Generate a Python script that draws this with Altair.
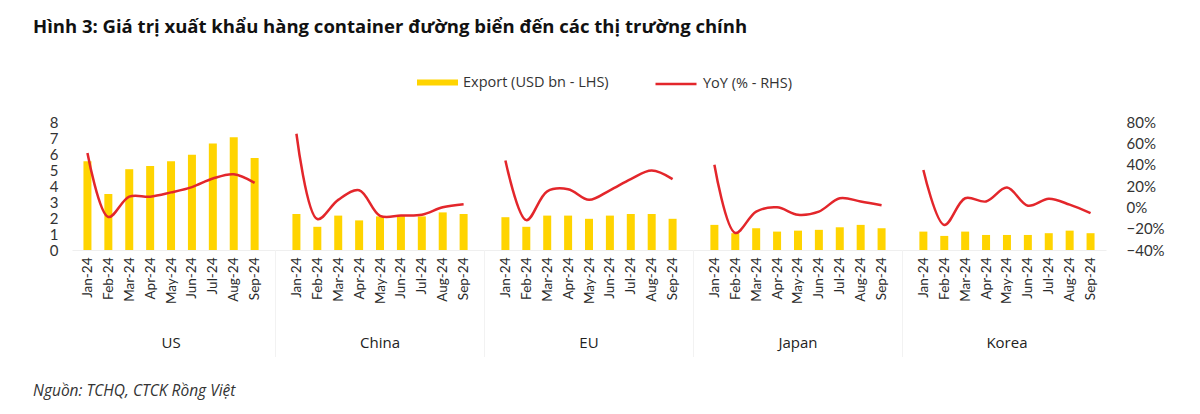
import altair as alt
import pandas as pd

markets = ["US", "China", "EU", "Japan", "Korea"]
months = ["Jan-24", "Feb-24", "Mar-24", "Apr-24", "May-24", "Jun-24", "Jul-24", "Aug-24", "Sep-24"]

export_us = [5.55, 3.5, 5.05, 5.25, 5.55, 5.95, 6.65, 7.05, 5.75]
export_china = [2.25, 1.45, 2.15, 1.85, 2.1, 2.15, 2.1, 2.35, 2.25]
export_eu = [2.05, 1.45, 2.15, 2.15, 1.95, 2.15, 2.25, 2.25, 1.95]
export_japan = [1.57, 1.05, 1.36, 1.15, 1.21, 1.26, 1.42, 1.57, 1.36]
export_korea = [1.15, 0.88, 1.15, 0.94, 0.94, 0.94, 1.05, 1.21, 1.05]

yoy_us = [0.51, -0.09, 0.10, 0.10, 0.14, 0.19, 0.27, 0.31, 0.23]
yoy_china = [0.69, -0.11, 0.07, 0.16, -0.08, -0.077, -0.07, 0.0, 0.03]
yoy_eu = [0.44, -0.12, 0.15, 0.17, 0.07, 0.16, 0.265, 0.345, 0.265]
yoy_japan = [0.40, -0.24, -0.04, 0.0, -0.07, -0.04, 0.085, 0.055, 0.02]
yoy_korea = [0.35, -0.165, 0.085, 0.055, 0.185, 0.015, 0.08, 0.025, -0.055]

exports = [export_us, export_china, export_eu, export_japan, export_korea]
yoys = [yoy_us, yoy_china, yoy_eu, yoy_japan, yoy_korea]

SLOTS_PER_GROUP = 10  # 9 months + 1 blank slot between markets

rows = []
for gi, m in enumerate(markets):
    for mi, mo in enumerate(months):
        rows.append({
            "market": m,
            "month": mo,
            "slot": gi * SLOTS_PER_GROUP + mi,
            "export": exports[gi][mi],
            "yoy": yoys[gi][mi],
            "s1": "Export (USD bn - LHS)",
            "s2": "YoY (% - RHS)",
        })
df = pd.DataFrame(rows)

groups = pd.DataFrame({
    "market": markets,
    "center": [gi * SLOTS_PER_GROUP + 4 for gi in range(len(markets))],
})
seps = pd.DataFrame({"sep": [gi * SLOTS_PER_GROUP - 1 for gi in range(1, len(markets))]})

FONT = "Lato"
FONT2 = "Open Sans"
W, H = 1034, 128
n_slots = len(markets) * SLOTS_PER_GROUP - 1

xscale = alt.Scale(domain=[-0.5, n_slots - 0.5], nice=False, zero=False)
month_arr = "[" + ",".join("'" + m + "'" for m in months) + "]"

x_axis = alt.Axis(
    values=df["slot"].tolist(),
    labelExpr=month_arr + "[datum.value % 10]",
    labelAngle=270,
    labelOverlap=False,
    labelFontSize=13.5,
    labelColor="#2a2a2a",
    labelFont=FONT,
    labelPadding=7,
    ticks=False,
    grid=False,
    domainColor="#efefef",
    title=None,
)

X = alt.X("slot:Q", scale=xscale, axis=x_axis)

bars = alt.Chart(df).mark_bar(size=8).encode(
    x=X,
    y=alt.Y("export:Q", scale=alt.Scale(domain=[0, 8], nice=False),
            axis=alt.Axis(values=list(range(0, 9)), format="d", title=None, grid=False,
                          ticks=False, domain=False, labelFontSize=15, labelColor="#333333",
                          labelFont=FONT, labelPadding=14)),
    fill=alt.Fill("s1:N", scale=alt.Scale(range=["#FFD400"]),
                  legend=alt.Legend(title=None, orient="none", legendX=345, legendY=-60,
                                    symbolType="M-1,-0.15L1,-0.15L1,0.15L-1,0.15Z", symbolSize=1681,
                                    symbolStrokeWidth=0, labelFontSize=14.5, labelFont=FONT2,
                                    labelColor="#333333", labelOffset=5)),
)

line = alt.Chart(df).mark_line(interpolate="catmull-rom", strokeWidth=2.5).encode(
    x=X,
    y=alt.Y("yoy:Q", scale=alt.Scale(domain=[-0.4, 0.8], nice=False),
            axis=alt.Axis(orient="right", values=[-0.4, -0.2, 0, 0.2, 0.4, 0.6, 0.8], format=".0%",
                          title=None, grid=False, ticks=False, domain=False, labelFontSize=15,
                          labelColor="#333333", labelFont=FONT, labelPadding=20)),
    detail="market:N",
    stroke=alt.Stroke("s2:N", scale=alt.Scale(range=["#E3262B"]),
                      legend=alt.Legend(title=None, orient="none", legendX=582, legendY=-60,
                                        symbolType="stroke", symbolSize=1681, symbolStrokeWidth=2.5,
                                        labelFontSize=14.5, labelFont=FONT2, labelColor="#333333",
                                        labelOffset=5)),
)

sep_rules = alt.Chart(seps).mark_rule(color="#f2f2f2", strokeWidth=1).encode(
    x=alt.X("sep:Q", scale=xscale, axis=x_axis),
    y=alt.value(H),
    y2=alt.value(H + 107),
)

group_text = alt.Chart(groups).mark_text(fontSize=15, font=FONT2, color="#222222", baseline="middle").encode(
    x=alt.X("center:Q", scale=xscale, axis=x_axis),
    y=alt.value(H + 93),
    text="market:N",
)

source = alt.Chart(pd.DataFrame({"t": ["Nguồn: TCHQ, CTCK Rồng Việt"]})).mark_text(
    fontSize=15.5, font=FONT2, fontStyle="italic", color="#333333", align="left", baseline="middle"
).encode(
    x=alt.value(-39),
    y=alt.value(H + 141),
    text="t:N",
)

chart = alt.layer(sep_rules, bars, line, group_text, source).resolve_scale(
    y="independent", fill="independent", stroke="independent"
).properties(
    width=W,
    height=H,
    autosize=alt.AutoSizeParams(type="none"),
    padding={"left": 64, "top": 114, "right": 86, "bottom": 156},
    title=alt.TitleParams(
        "Hình 3: Giá trị xuất khẩu hàng container đường biển đến các thị trường chính",
        anchor="start", frame="group", dx=-39, dy=-22, fontSize=18.5, font=FONT2,
        fontWeight="bold", color="#111111",
    ),
).configure_view(stroke=None).configure_axisX(labelOverlap=False)

chart.save("out.html", embed_options={"renderer": "svg", "actions": False})
